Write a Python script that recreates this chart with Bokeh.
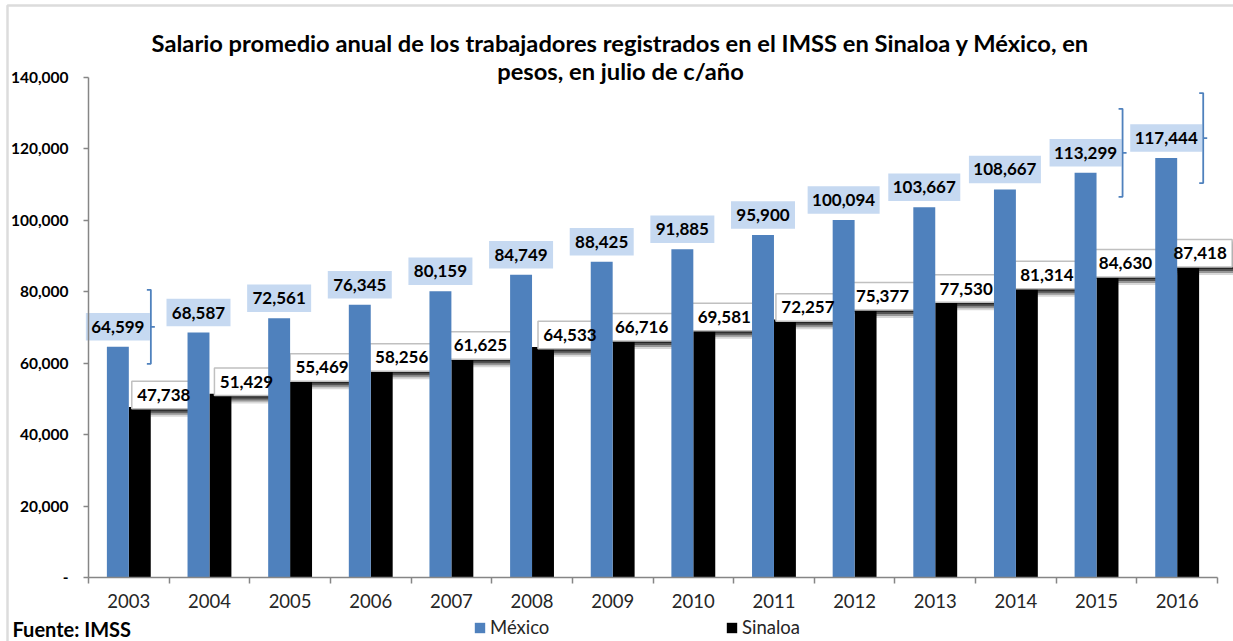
import numpy as np
from bokeh.plotting import figure
from bokeh.models import (Range1d, FixedTicker, Label, LabelSet, Legend, LegendItem,
                          BoxAnnotation, ColumnDataSource)
from bokeh.core.properties import value
from bokeh.embed import file_html
from bokeh.resources import INLINE

# ---------------- data ----------------
years = ["2003", "2004", "2005", "2006", "2007", "2008", "2009",
         "2010", "2011", "2012", "2013", "2014", "2015", "2016"]
mexico = [64599, 68587, 72561, 76345, 80159, 84749, 88425,
          91885, 95900, 100094, 103667, 108667, 113299, 117444]
sinaloa = [47738, 51429, 55469, 58256, 61625, 64533, 66716,
           69581, 72257, 75377, 77530, 81314, 84630, 87418]
series_names = ["México", "Sinaloa"]
y_ticks = [0, 20000, 40000, 60000, 80000, 100000, 120000, 140000]
y_tick_labels = ["-", "20,000", "40,000", "60,000", "80,000",
                 "100,000", "120,000", "140,000"]
title_lines = ["Salario promedio anual de los trabajadores registrados en el IMSS en Sinaloa y México, en",
               "pesos, en julio de c/año"]
source_note = "Fuente: IMSS"
bracket_years = ["2003", "2015", "2016"]

# layout-only tweaks (pixels)
bracket_half_px = [37, 44, 45]
sin_label_nudge_px = [24, 26, 21, 20, 18, 27, 18, 20, 23, 17, 20, 20, 18, 12]

# ---------------- layout (pixels on the 1233x641 canvas) ----------------
W, H = 1233, 641
PX_LEFT, PX_RIGHT = 88, 1217      # category band
PX_ZERO, PX_TOP = 577, 77         # y = 0 and y = YMAX
n = len(years)
YMAX = 140000
ppx = (PX_RIGHT - PX_LEFT) / n
ppy = (PX_ZERO - PX_TOP) / YMAX
px_x = 1 / ppx
px_y = 1 / ppy

BLUE = "#4f81bd"
LBLUE = "#c6d9f1"
GRAY = "#868686"
FONT = "Lato"
LBL_SIZE = "17px"

OFF = 0.136
BW = 0.272
BOX_H = 27.5
MEX_UP = 20      # px the México label centre sits above the bar top
SIN_UP = 12      # px the Sinaloa label centre sits above the bar top


def box_w(label):
    return 64 + 8 * (len(label) - 6)


xs = list(range(n))
mex_lbl = [f"{v:,}" for v in mexico]
sin_lbl = [f"{v:,}" for v in sinaloa]
x_mex = [i - OFF for i in xs]
x_sin = [i + OFF for i in xs]
src = ColumnDataSource(dict(
    x=xs, mexico=mexico, sinaloa=sinaloa, x_mex=x_mex, x_sin=x_sin,
    mex_lbl=mex_lbl, sin_lbl=sin_lbl,
    mex_bx=list(x_mex),
    mex_by=[v + MEX_UP * px_y for v in mexico],
    mex_w=[box_w(t) for t in mex_lbl],
    sin_bx=[x + d * px_x for x, d in zip(x_sin, sin_label_nudge_px)],
    sin_by=[v + SIN_UP * px_y for v in sinaloa],
    sin_w=[box_w(t) for t in sin_lbl],
))

xr = Range1d(-0.5 - PX_LEFT * px_x, n - 0.5 + (W - PX_RIGHT) * px_x)
yr = Range1d(-(H - PX_ZERO) * px_y, YMAX + PX_TOP * px_y)
p = figure(width=W, height=H, x_range=xr, y_range=yr,
           output_backend="svg", toolbar_location=None, title_location=None,
           min_border_left=0, min_border_right=0,
           min_border_top=0, min_border_bottom=0)
p.outline_line_color = None
p.xgrid.visible = False
p.ygrid.visible = False
p.background_fill_color = "white"
p.border_fill_color = "white"

# Sinaloa bars
rs = p.vbar(x="x_sin", top="sinaloa", width=BW, bottom=0,
            source=src, fill_color="black", line_color=None)

# Sinaloa label shadows
for s, a in [(8, 0.15), (6, 0.3), (4, 0.45), (2, 0.55)]:
    sh = ColumnDataSource(dict(
        x=[x + s * px_x for x in src.data["sin_bx"]],
        y=[y - s * px_y for y in src.data["sin_by"]],
        w=src.data["sin_w"]))
    p.rect(x="x", y="y", width="w", height=BOX_H, width_units="screen",
           height_units="screen", source=sh, fill_color="black",
           fill_alpha=a, line_color=None)

# Sinaloa label boxes
p.rect(x="sin_bx", y="sin_by", width="sin_w", height=BOX_H, width_units="screen",
       height_units="screen", source=src, fill_color="white",
       line_color="#c0c0c0", line_width=1.5)

# México bars
rm = p.vbar(x="x_mex", top="mexico", width=BW, bottom=0,
            source=src, fill_color=BLUE, line_color=None)

# México label boxes
p.rect(x="mex_bx", y="mex_by", width="mex_w", height=BOX_H, width_units="screen",
       height_units="screen", source=src, fill_color=LBLUE, line_color=None)

# label texts
for xc, yc, tc in [("sin_bx", "sin_by", "sin_lbl"), ("mex_bx", "mex_by", "mex_lbl")]:
    p.add_layout(LabelSet(x=xc, y=yc, text=tc, source=src,
                          text_align="center", text_baseline="middle",
                          text_font=value(FONT), text_font_style="bold",
                          text_font_size=value(LBL_SIZE), text_color="black"))

# Brackets beside some México labels
bx, by = [], []
for yr_lbl, hh in zip(bracket_years, bracket_half_px):
    i = years.index(yr_lbl)
    xc = x_mex[i] + (box_w(mex_lbl[i]) / 2 + 1) * px_x
    yc = mexico[i] + MEX_UP * px_y
    top = yc + hh * px_y
    bot = yc - hh * px_y
    bx.append([xc - 4 * px_x, xc, xc, xc - 4 * px_x])
    by.append([top, top, bot, bot])
    bx.append([xc, xc + 4 * px_x])
    by.append([yc, yc])
p.multi_line(bx, by, line_color=BLUE, line_width=1.8)

# ---------------- axes ----------------
ya = p.yaxis[0]
ya.fixed_location = -0.5
ya.bounds = (0, YMAX)
ya.ticker = FixedTicker(ticks=y_ticks)
ya.major_label_overrides = {t: s for t, s in zip(y_ticks, y_tick_labels)}
ya.axis_line_color = GRAY
ya.axis_line_width = 1.5
ya.major_tick_line_color = GRAY
ya.major_tick_line_width = 1.5
ya.major_tick_in = 0
ya.major_tick_out = 5
ya.minor_tick_line_color = None
ya.major_label_standoff = 15
ya.major_label_text_font = FONT
ya.major_label_text_font_style = "bold"
ya.major_label_text_font_size = "15.5px"
ya.major_label_text_color = "black"

xa = p.xaxis[0]
xa.fixed_location = 0
xa.bounds = (-0.5, n - 0.5)
xa.ticker = FixedTicker(ticks=xs, minor_ticks=[i - 0.5 for i in range(n + 1)])
xa.major_label_overrides = {i: y for i, y in enumerate(years)}
xa.axis_line_color = GRAY
xa.axis_line_width = 1.5
xa.major_tick_line_color = None
xa.major_tick_in = 0
xa.major_tick_out = 6
xa.minor_tick_line_color = GRAY
xa.minor_tick_line_width = 1.5
xa.minor_tick_in = 0
xa.minor_tick_out = 6
xa.major_label_standoff = 10
xa.major_label_text_font = FONT
xa.major_label_text_font_size = "18.5px"
xa.major_label_text_color = "#262626"

# ---------------- title & notes (screen units, y measured up from bottom) ----------------
for line, cy in zip(title_lines, [42, 70]):
    p.add_layout(Label(x=620, y=H - cy, x_units="screen", y_units="screen",
                       text=line, text_align="center", text_baseline="middle",
                       text_font=FONT, text_font_style="bold",
                       text_font_size="23.7px", text_color="black"))

p.add_layout(Label(x=12, y=H - 628, x_units="screen", y_units="screen",
                   text=source_note, text_align="left", text_baseline="middle",
                   text_font=FONT, text_font_style="bold",
                   text_font_size="20px", text_color="black"))

# ---------------- legend ----------------
for name, rend, lx in [(series_names[0], rm, 473), (series_names[1], rs, 725)]:
    lg = Legend(items=[LegendItem(label=name, renderers=[rend])],
                location=(lx, 3), orientation="horizontal",
                border_line_color=None, background_fill_alpha=0,
                padding=0, margin=0, spacing=0,
                glyph_width=13, glyph_height=13, label_standoff=4,
                label_text_font=FONT, label_text_font_size="18.5px",
                label_text_color="#262626")
    p.add_layout(lg)

# ---------------- outer border ----------------
p.add_layout(BoxAnnotation(left=7, right=W + 50, top=H - 5, bottom=-50,
                           left_units="screen", right_units="screen",
                           top_units="screen", bottom_units="screen",
                           fill_color=None, line_color="#8a8a8a", line_width=2.5))

open("out.html", "w").write(file_html(p, INLINE))
